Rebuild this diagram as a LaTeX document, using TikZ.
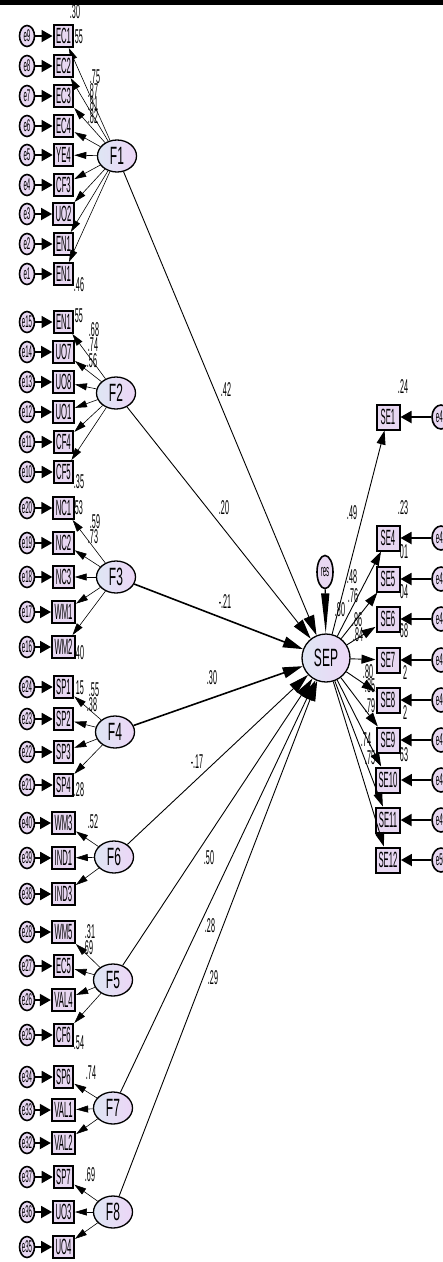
\documentclass[tikz,border=0pt]{standalone}
\usepackage{fontspec}
\setmainfont{Liberation Sans}
\newfontfamily\boxf{Liberation Sans}[FakeStretch=0.35]
\newfontfamily\latf{Liberation Sans}[FakeStretch=0.48]
\newfontfamily\numf{Liberation Sans}[FakeStretch=0.36]
\usetikzlibrary{arrows.meta,shapes.geometric}
\definecolor{lav}{RGB}{232,216,242}
\definecolor{latl}{RGB}{222,230,244}
\definecolor{latr}{RGB}{236,214,246}
\newcommand\grp[3]{%
  \foreach \lab/\yy/\e [count=\i] in {#3} {
    \node[ind] (#1\i) at (63.5,\yy) {\lab};
    \node[err] (#1e\i) at (27,\yy) {\e};
    \draw[earr] (#1e\i) -- (#1\i);
    \draw[larr] (#2) -- (#1\i);
  }}
\begin{document}
\begin{tikzpicture}[x=1pt,y=-1pt,
 ind/.style={draw, line width=2pt, fill=lav, minimum width=19pt, minimum height=22pt, inner xsep=2.5pt, inner ysep=1pt, font=\boxf\fontsize{22}{22}\selectfont},
 err/.style={ellipse, draw, line width=1.6pt, fill=lav, minimum width=15pt, minimum height=21pt, inner sep=0pt, font=\numf\fontsize{17}{17}\selectfont},
 lat/.style={ellipse, draw, line width=1.3pt, left color=latl, right color=latr, minimum width=39pt, minimum height=32pt, inner sep=0pt, font=\latf\fontsize{25}{25}\selectfont},
 earr/.style={-{Triangle[length=11pt,width=12pt]}, line width=1.8pt},
 larr/.style={-{Triangle[length=12pt,width=7pt]}, line width=0.6pt},
 parr/.style={-{Triangle[length=20pt,width=11pt]}, line width=0.9pt},
 num/.style={font=\numf\fontsize{20}{20}\selectfont, inner sep=0pt},
]
\useasboundingbox (0,0) rectangle (443,1262);
\clip (0,0) rectangle (443,1262);
\fill[black] (0,0) rectangle (443,5);

% latent factors
\node[lat] (F1) at (117,156) {F1};
\node[lat] (F2) at (116,393) {F2};
\node[lat] (F3) at (116,577) {F3};
\node[lat] (F4) at (115,732) {F4};
\node[lat] (F6) at (114,857) {F6};
\node[lat] (F5) at (113,980) {F5};
\node[lat] (F7) at (113,1108) {F7};
\node[lat] (F8) at (113,1212) {F8};

\grp{a}{F1}{EC1/36/e9, EC2/66/e8, EC3/96/e7, EC4/126/e6, YE4/155/e5, CF3/185/e4, UO2/214/e3, EN1/244/e2, EN1/274/e1}
\grp{b}{F2}{EN1/322/e15, UO7/352/e14, UO8/382/e13, UO1/412/e12, CF4/442/e11, CF5/472/e10}
\grp{c}{F3}{NC1/508/e20, NC2/543/e19, NC3/577/e18, WM1/612/e17, WM2/647/e16}
\grp{d}{F4}{SP1/687/e24, SP2/719/e23, SP3/752/e22, SP4/785/e21}
\grp{g}{F6}{WM3/823/e40, IND1/858/e39, IND3/894/e38}
\grp{h}{F5}{WM5/932/e28, EC5/966/e27, VAL4/1000/e26, CF6/1035/e25}
\grp{k}{F7}{SP6/1077/e34, VAL1/1110/e33, VAL2/1143/e32}
\grp{m}{F8}{SP7/1177/e37, UO3/1212/e36, UO4/1247/e35}

% loading / R2 labels (left)
\node[num] at (75,12) {.30};
\node[num] at (79,37) {55};
\node[num] at (95,77) {.75};
\node[num] at (93,91) {.87};
\node[num] at (93,104) {.81};
\node[num] at (93,117) {.82};
\node[num] at (79,285) {.46};
\node[num] at (79,316) {55};
\node[num] at (94,330) {.68};
\node[num] at (93,345) {.74};
\node[num] at (92,361) {.56};
\node[num] at (79,482) {.35};
\node[num] at (79,508) {53};
\node[num] at (95,522) {.59};
\node[num] at (93,537) {.73};
\node[num] at (79,653) {.40};
\node[num] at (80,688) {15};
\node[num] at (94,690) {.55};
\node[num] at (92,705) {.38};
\node[num] at (79,790) {.28};
\node[num] at (93,822) {.52};
\node[num] at (90,932) {.31};
\node[num] at (88,948) {.69};
\node[num] at (79,1043) {.54};
\node[num] at (91,1073) {.74};
\node[num] at (90,1175) {.69};

% SEP and its residual
\node[lat, minimum width=48pt, minimum height=48pt] (SEP) at (326,658) {SEP};
\node[err, minimum width=16pt, minimum height=33pt] (res) at (325,572) {res};
\draw[-{Triangle[length=40pt,width=8pt]}, line width=1.4pt] (res) -- (SEP);

% structural paths
\draw[parr] (F1) -- (SEP);
\draw[parr] (F2) -- (SEP);
\draw[parr, line width=1.6pt] (F3) -- (SEP);
\draw[parr, line width=1.6pt] (F4) -- (SEP);
\draw[parr] (F6) -- (SEP);
\draw[parr] (F5) -- (SEP);
\draw[parr] (F7) -- (SEP);
\draw[parr] (F8) -- (SEP);
\node[num] at (226,390) {.42};
\node[num] at (224,508) {.20};
\node[num] at (225,602) {-.21};
\node[num] at (212,678) {.30};
\node[num] at (197,762) {-.17};
\node[num] at (209,858) {.50};
\node[num] at (210,926) {.28};
\node[num] at (213,978) {.29};

% SE indicators
\foreach \lab/\yy/\e [count=\i] in {SE1/417/e41, SE4/538/e42, SE5/579/e43, SE6/619/e44, SE7/660/e45, SE8/700/e46, SE9/740/e47, SE10/780/e48, SE11/820/e49, SE12/860/e50} {
  \node[ind, minimum width=23pt, minimum height=25pt] (s\i) at (388,\yy) {\lab};
  \node[err, minimum width=18pt, minimum height=24pt] (se\i) at (441,\yy) {\e};
  \draw[earr] (se\i) -- (s\i);
  \draw[-{Triangle[length=14pt,width=9pt]}, line width=0.9pt] (SEP) -- (s\i);
}
\node[num] at (403,387) {.24};
\node[num] at (403,508) {.23};
\node[num] at (352,513) {.49};
\node[num] at (352,577) {.48};
\node[num] at (353,596) {.76};
\node[num] at (340,610) {.80};
\node[num] at (357,620) {.86};
\node[num] at (358,635) {.84};
\node[num] at (404,552) {01};
\node[num] at (404,592) {04};
\node[num] at (404,631) {68};
\node[num] at (368,672) {.80};
\node[num] at (405,673) {2};
\node[num] at (370,686) {.85};
\node[num] at (370,706) {.79};
\node[num] at (405,713) {2};
\node[num] at (366,740) {.74};
\node[num] at (370,758) {.75};
\node[num] at (404,755) {63};
\end{tikzpicture}
\end{document}
